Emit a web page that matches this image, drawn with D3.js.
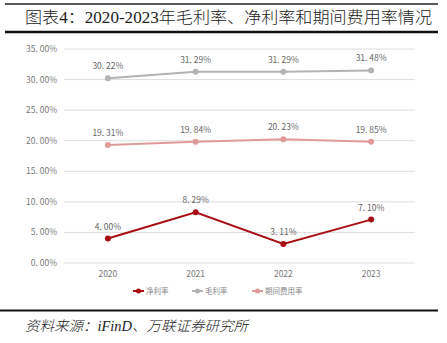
<!DOCTYPE html>
<html><head><meta charset="utf-8">
<script src="https://cdn.jsdelivr.net/npm/d3@7"></script>
<style>body{margin:0;background:#fff}svg{display:block}</style>
</head><body>
<script>
const years = ["2020","2021","2022","2023"];
const netMargin = [4.00, 8.29, 3.11, 7.10];
const grossMargin = [30.22, 31.29, 31.29, 31.48];
const expenseRate = [19.31, 19.84, 20.23, 19.85];
const yTicks = [0,5,10,15,20,25,30,35];
const seriesNames = ["净利率","毛利率","期间费用率"];
const seriesColors = ["#a80f14","#b3b3b3","#e09a9a"];

const W=447,H=343;
const svg=d3.select("body").append("svg").attr("width",W).attr("height",H);
const serif="'Liberation Serif','DejaVu Serif','Noto Sans CJK SC',serif";
const sans="'Noto Sans CJK SC','DejaVu Sans',sans-serif";

// title bars
svg.append("line").attr("x1",5).attr("x2",438).attr("y1",4).attr("y2",4).attr("stroke","#222").attr("stroke-width",1.5);
svg.append("line").attr("x1",5).attr("x2",438).attr("y1",32).attr("y2",32).attr("stroke","#111").attr("stroke-width",2.5);
svg.append("text").attr("x",25).attr("y",23).attr("font-family",serif).attr("font-size",16).attr("font-weight",300).attr("fill","#222")
  .attr("textLength",407).attr("lengthAdjust","spacingAndGlyphs")
  .text("图表4：2020-2023年毛利率、净利率和期间费用率情况");

const x=d3.scalePoint().domain(years).range([64,415]).padding(0.5);
const y=d3.scaleLinear().domain([0,35]).range([263,49]);

// grid
svg.append("g").selectAll("line").data(yTicks).join("line")
  .attr("x1",64).attr("x2",415).attr("y1",d=>y(d)).attr("y2",d=>y(d))
  .attr("stroke","#dedede").attr("stroke-width",1);
const fmtL=v=>d3.format(".2f")(v).replace(".",". ")+"%";
svg.append("g").selectAll("text").data(yTicks).join("text")
  .attr("x",57).attr("y",d=>y(d)).attr("dy","0.35em").attr("text-anchor","end")
  .attr("font-family",sans).attr("font-size",8.5).attr("fill","#7a7a7a")
  .text(d=>fmtL(d));
svg.append("g").selectAll("text").data(years).join("text")
  .attr("x",d=>x(d)).attr("y",274).attr("dy","0.35em").attr("text-anchor","middle")
  .attr("font-family",sans).attr("font-size",8.5).attr("fill","#7a7a7a").text(d=>d);

const series=[netMargin,grossMargin,expenseRate];
const line=d3.line().x((d,i)=>x(years[i])).y(d=>y(d));
series.forEach((s,k)=>{
  const g=svg.append("g");
  g.append("path").datum(s).attr("d",line).attr("fill","none").attr("stroke",seriesColors[k]).attr("stroke-width",2);
  g.selectAll("circle").data(s).join("circle").attr("cx",(d,i)=>x(years[i])).attr("cy",d=>y(d)).attr("r",3).attr("fill",seriesColors[k]);
  g.selectAll("text").data(s).join("text").attr("x",(d,i)=>x(years[i])).attr("y",d=>y(d)-12).attr("dy","0.35em")
    .attr("text-anchor","middle").attr("font-family",sans).attr("font-size",8.5).attr("fill","#666").text(d=>fmtL(d));
});

const legX=[133,192,252];
seriesNames.forEach((n,k)=>{
  const g=svg.append("g").attr("transform",`translate(${legX[k]},291)`);
  g.append("line").attr("x1",0).attr("x2",11).attr("stroke",seriesColors[k]).attr("stroke-width",2);
  g.append("circle").attr("cx",5.5).attr("r",2.5).attr("fill",seriesColors[k]);
  g.append("text").attr("x",13).attr("dy","0.35em").attr("font-family",sans).attr("font-size",7.5).attr("fill","#8a8a8a").text(n);
});

svg.append("line").attr("x1",0).attr("x2",438).attr("y1",310.5).attr("y2",310.5).attr("stroke","#111").attr("stroke-width",2);
svg.append("text").attr("x",25).attr("y",331).attr("font-family",serif).attr("font-style","italic").attr("font-size",14).attr("font-weight",300).attr("fill","#222")
  .attr("textLength",223).attr("lengthAdjust","spacingAndGlyphs")
  .text("资料来源：iFinD、万联证券研究所");
</script>
</body></html>
